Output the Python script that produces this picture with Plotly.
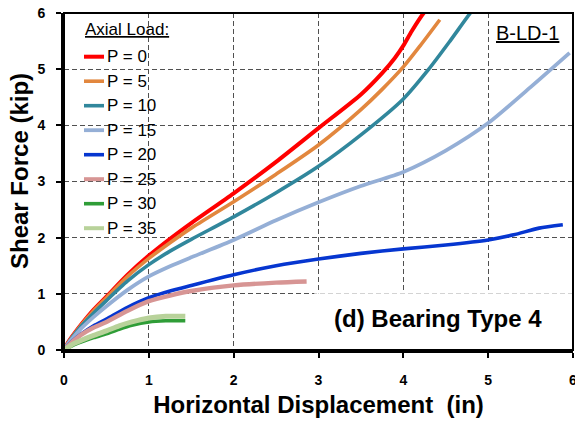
import plotly.graph_objects as go

# ---- data ----
labels = ["P = 0", "P = 5", "P = 10", "P = 15", "P = 20", "P = 25", "P = 30", "P = 35"]
colors = ["#FF0000", "#E2873E", "#31879C", "#95AFD6", "#0636D0", "#D79594", "#2F9D37", "#B8D29A"]

x_p0 = [0, 0.05, 0.1, 0.2, 0.35, 0.5, 0.75, 1.0, 1.25, 1.5, 2.0, 2.5, 3.0, 3.5, 3.75, 3.9, 4.0, 4.1, 4.24, 4.3]
y_p0 = [0, 0.14, 0.25, 0.45, 0.72, 0.95, 1.34, 1.68, 1.98, 2.26, 2.79, 3.35, 3.95, 4.55, 4.93, 5.2, 5.42, 5.68, 6.0, 6.1]

x_p5 = [0, 0.05, 0.1, 0.2, 0.35, 0.5, 0.75, 1.0, 1.25, 1.5, 2.0, 2.5, 3.0, 3.5, 3.75, 4.0, 4.2, 4.43]
y_p5 = [0, 0.13, 0.24, 0.44, 0.70, 0.93, 1.31, 1.63, 1.91, 2.17, 2.64, 3.13, 3.65, 4.28, 4.64, 5.04, 5.42, 5.88]

x_p10 = [0, 0.05, 0.1, 0.2, 0.35, 0.5, 0.75, 1.0, 1.25, 1.5, 2.0, 2.5, 3.0, 3.5, 4.0, 4.3, 4.55, 4.8, 4.85]
y_p10 = [0, 0.12, 0.23, 0.42, 0.66, 0.88, 1.23, 1.52, 1.76, 1.97, 2.37, 2.80, 3.27, 3.83, 4.47, 5.0, 5.5, 6.02, 6.1]

x_p15 = [0, 0.05, 0.1, 0.2, 0.35, 0.5, 0.75, 1.0, 1.25, 1.5, 2.0, 2.5, 3.0, 3.5, 4.0, 4.5, 5.0, 5.5, 5.96]
y_p15 = [0, 0.12, 0.21, 0.38, 0.59, 0.78, 1.07, 1.31, 1.49, 1.65, 1.96, 2.31, 2.63, 2.92, 3.17, 3.55, 4.04, 4.68, 5.29]

x_p20 = [0, 0.05, 0.1, 0.2, 0.35, 0.5, 0.75, 1.0, 1.25, 1.5, 2.0, 2.5, 3.0, 3.5, 4.0, 4.5, 5.0, 5.3, 5.6, 5.88]
y_p20 = [0, 0.09, 0.16, 0.28, 0.43, 0.55, 0.76, 0.93, 1.05, 1.15, 1.34, 1.50, 1.62, 1.72, 1.80, 1.87, 1.96, 2.05, 2.17, 2.23]

x_p25 = [0, 0.05, 0.1, 0.2, 0.35, 0.5, 0.75, 1.0, 1.25, 1.5, 2.0, 2.5, 2.86]
y_p25 = [0, 0.08, 0.15, 0.27, 0.40, 0.50, 0.70, 0.87, 0.97, 1.05, 1.15, 1.20, 1.22]

x_p30 = [0, 0.05, 0.1, 0.2, 0.35, 0.5, 0.65, 0.8, 1.0, 1.2, 1.43]
y_p30 = [0, 0.04, 0.08, 0.14, 0.22, 0.29, 0.37, 0.44, 0.50, 0.52, 0.52]

x_p35 = [0, 0.05, 0.1, 0.2, 0.35, 0.5, 0.65, 0.8, 1.0, 1.2, 1.43]
y_p35 = [0, 0.05, 0.10, 0.17, 0.26, 0.34, 0.43, 0.50, 0.57, 0.60, 0.60]

series_x = [x_p0, x_p5, x_p10, x_p15, x_p20, x_p25, x_p30, x_p35]
series_y = [y_p0, y_p5, y_p10, y_p15, y_p20, y_p25, y_p30, y_p35]
widths = [4, 3.6, 3.6, 3.8, 3.6, 4.4, 3.6, 5]

tick_vals = [0, 1, 2, 3, 4, 5, 6]

FONT = "Liberation Sans, Arial, sans-serif"
W, H = 575, 421
L, R, T, B = 64, 2, 13, 71
PW, PH = W - L - R, H - T - B


def px2paper(px, py):
    return (px - L) / PW, (H - B - py) / PH


fig = go.Figure()

# white panel behind "(d) Bearing Type 4" (hides gridlines)
fig.add_shape(type="rect", xref="x", yref="y", x0=2.95, x1=6, y0=0, y1=1.01,
              fillcolor="white", line=dict(width=0), layer="between")

for xs, ys, c, w, lab in zip(series_x, series_y, colors, widths, labels):
    fig.add_trace(go.Scatter(x=xs, y=ys, mode="lines", name=lab,
                             line=dict(color=c, width=w, shape="spline", smoothing=0.7),
                             showlegend=False))

# manual legend
lx0, lx1, ltext = 84, 104, 105
ly0, lstep = 56.7, 24.5
fx, fy = px2paper(83, 30)
fig.add_annotation(xref="paper", yref="paper", x=fx, y=fy, xanchor="left", yanchor="middle",
                   text="<u>Axial Load:</u>", showarrow=False,
                   font=dict(family=FONT, size=17, color="black"))
for i, (lab, c, w) in enumerate(zip(labels, colors, widths)):
    py = ly0 + i * lstep
    a0, yy = px2paper(lx0, py)
    a1, _ = px2paper(lx1, py)
    fig.add_shape(type="line", xref="paper", yref="paper", x0=a0, x1=a1, y0=yy, y1=yy,
                  line=dict(color=c, width=min(w, 4)))
    tx, _ = px2paper(ltext, py)
    fig.add_annotation(xref="paper", yref="paper", x=tx, y=yy, xanchor="left", yanchor="middle",
                       text=lab, showarrow=False,
                       font=dict(family=FONT, size=17, color="black"))

bx, by = px2paper(527, 33)
fig.add_annotation(xref="paper", yref="paper", x=bx, y=by, xanchor="center", yanchor="middle",
                   text="<u>B-LD-1</u>", showarrow=False,
                   font=dict(family=FONT, size=20, color="black"))
dx, dy = px2paper(438, 318)
fig.add_annotation(xref="paper", yref="paper", x=dx, y=dy, xanchor="center", yanchor="middle",
                   text="(d) Bearing Type 4", showarrow=False,
                   font=dict(family=FONT, size=24, color="black", weight="bold"))

# y-axis title (placed as rotated text to match the reference position)
yx, yy_ = px2paper(19, 171)
fig.add_annotation(xref="paper", yref="paper", x=yx, y=yy_, xanchor="center", yanchor="middle",
                   text="Shear Force (kip)", textangle=-90, showarrow=False,
                   font=dict(family=FONT, size=24, color="black", weight="bold"))

# top/right thin border
fig.add_shape(type="rect", xref="paper", yref="paper", x0=0, x1=1, y0=0, y1=1,
              line=dict(color="black", width=2), layer="above")

axis_common = dict(
    range=[0, 6], tickvals=tick_vals, ticktext=[str(v) for v in tick_vals],
    showgrid=True, gridcolor="#505050", gridwidth=1, griddash="5px,3px",
    showline=True, linecolor="black", linewidth=3, mirror=False,
    ticks="outside", ticklen=5, tickwidth=1.5, tickcolor="black",
    tickfont=dict(family=FONT, size=14, color="black", weight="bold"),
    ticklabeloverflow="allow",
    zeroline=False, fixedrange=True,
)

fig.update_xaxes(**axis_common, ticklabelstandoff=10,
                 title=dict(text="Horizontal Displacement&nbsp; (in)", standoff=10,
                            font=dict(family=FONT, size=24, color="black", weight="bold")))
fig.update_yaxes(**axis_common, ticklabelstandoff=8)

fig.update_layout(width=W, height=H, margin=dict(l=L, r=R, t=T, b=B, autoexpand=False),
                  paper_bgcolor="white", plot_bgcolor="white", showlegend=False)

fig.write_html("out.html")
